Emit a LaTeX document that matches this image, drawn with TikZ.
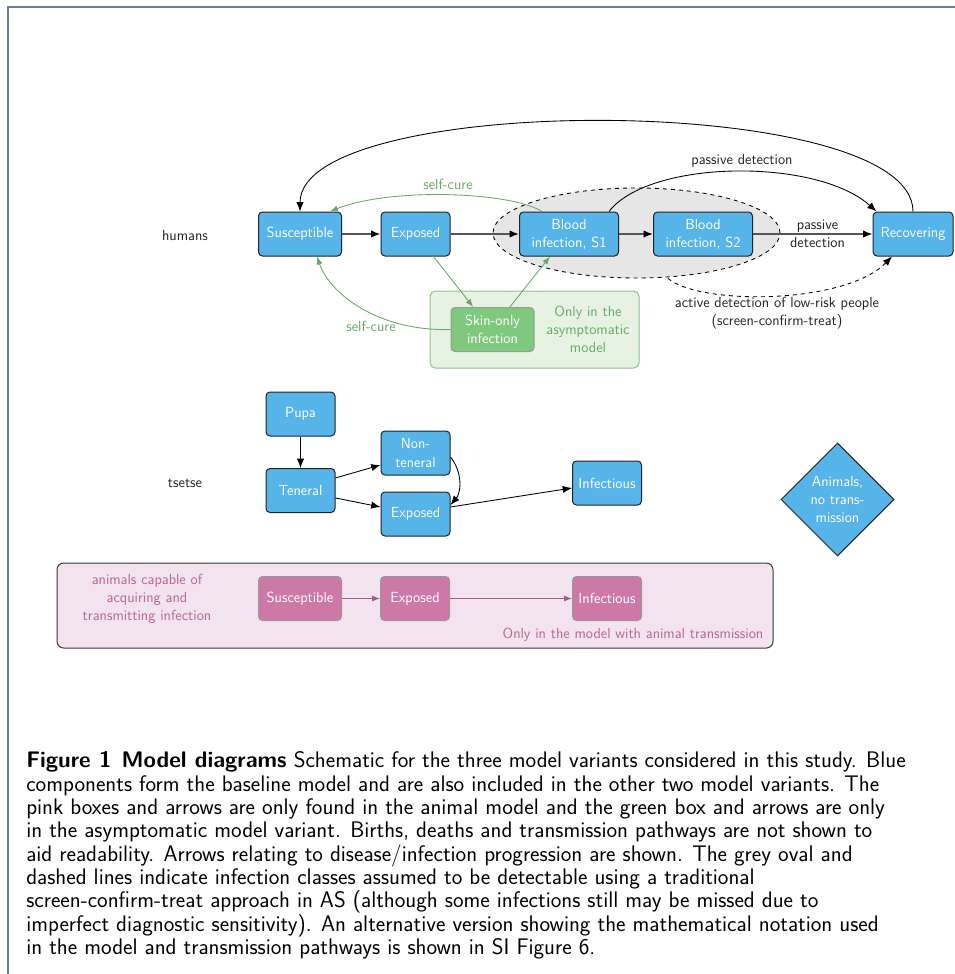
\documentclass[tikz,border=0pt]{standalone}
\usepackage{fontspec}
\usetikzlibrary{arrows.meta,shapes.geometric}
\definecolor{skyblue}{HTML}{56B4E9}
\definecolor{boxline}{HTML}{222222}
\definecolor{maingrey}{HTML}{555555}
\definecolor{txtdark}{HTML}{222222}
\definecolor{gtext}{HTML}{68A868}
\definecolor{gfill}{HTML}{7FC97F}
\definecolor{gbox}{HTML}{E6F3E3}
\definecolor{gboxline}{HTML}{8CC48C}
\definecolor{pfill}{HTML}{CC79A7}
\definecolor{ptext}{HTML}{B4678F}
\definecolor{parrow}{HTML}{A85A88}
\definecolor{pbox}{HTML}{F3E3EE}
\definecolor{framecol}{HTML}{6A7F9A}
\definecolor{ovalfill}{HTML}{E6E6E6}
\begin{document}
\begin{tikzpicture}[x=0.75pt,y=-0.75pt,
  font=\sffamily\fontsize{11}{13.6}\selectfont,
  box/.style={draw=boxline, line width=0.75pt, rounded corners=3pt, fill=skyblue,
    text=white, minimum height=33pt, inner sep=2pt, align=center},
  wa/.style={minimum width=62.25pt},
  wb/.style={minimum width=51.75pt},
  wc/.style={minimum width=74.25pt},
  pbx/.style={box, fill=pfill, draw=gray!80},
  gbx/.style={box, fill=gfill, draw=gray!80},
  lbl/.style={text=txtdark, align=center, inner sep=1pt},
  arr/.style={-{Latex[length=7pt,width=5.5pt]}, line width=0.65pt, draw=black},
  mainarr/.style={-{Latex[length=7pt,width=5.5pt,color=black]}, line width=1.1pt, draw=maingrey},
  garr/.style={-{Latex[length=6pt,width=4.5pt]}, line width=0.65pt, draw=gtext, fill=none},
  parr/.style={-{Latex[length=6pt,width=4.5pt]}, line width=0.65pt, draw=parrow},
  darr/.style={-{Latex[length=7pt,width=5.5pt]}, line width=0.65pt, dashed, draw=black}
]
\useasboundingbox (0,0) rectangle (955,974);

% page frame fragment
\draw[framecol, line width=1.2pt] (8,974) -- (8,7) -- (955,7);

% backgrounds
\node[ellipse, draw=black, dashed, line width=0.65pt, fill=ovalfill,
  minimum width=215.25pt, minimum height=67.5pt, inner sep=0pt] (oval) at (636.5,233) {};
\node[draw=gboxline, fill=gbox, rounded corners=4pt, line width=0.75pt,
  minimum width=156.75pt, minimum height=57.75pt, inner sep=0pt] (greenbox) at (534.5,329.5) {};
\node[draw=boxline!90, fill=pbox, rounded corners=5pt, line width=0.75pt,
  minimum width=537pt, minimum height=63.75pt, inner sep=0pt] (pinkbox) at (415,605.5) {};

% humans
\node[lbl] (humans) at (185,235) {humans};
\node[box,wa] (sus) at (300,234) {Susceptible};
\node[box,wb] (exp) at (415.5,234) {Exposed};
\node[box,wc] (s1) at (569,234) {Blood\\infection, S1};
\node[box,wc] (s2) at (703,234) {Blood\\infection, S2};
\node[box,minimum width=60pt] (rec) at (913,234) {Recovering};
\node[gbx,wa] (skin) at (492.5,329.5) {Skin-only\\infection};
\node[text=gtext, align=center, inner sep=0pt] (onlyasym) at (588,329.5) {Only in the\\asymptomatic\\model};

\draw[mainarr] (sus) -- (exp);
\draw[mainarr] (exp) -- (s1);
\draw[mainarr] (s1) -- (s2);
\draw[mainarr] (s2) -- node[lbl, pos=0.54]{passive\\detection} (rec);

\draw[arr] (rec.north) .. controls +(0,-120) and +(0,-120) .. (sus.north);
\draw[arr] ([xshift=-7.5pt]s1.north east) .. controls +(40,-52) and +(-60,-54) .. ([xshift=3pt]rec.north west);
\node[lbl] (pdlab) at (742,161) {passive detection};

\draw[garr] ([xshift=-20.25pt]s1.north) .. controls +(-32,-20) and +(60,-24) .. ([xshift=-9pt]sus.north east);
\node[text=gtext, inner sep=1pt] (sc1) at (448,184) {self-cure};
\draw[garr] (skin.west) .. controls +(-71,2) and +(13,38) .. ([xshift=12.75pt]sus.south);
\node[text=gtext, inner sep=1pt] (sc2) at (371,326) {self-cure};
\draw[garr] ([xshift=13.5pt]exp.south) -- ([xshift=-14.5pt]skin.north);
\draw[garr] ([xshift=13pt]skin.north) -- ([xshift=-14.25pt]s1.south);

\draw[darr] ([xshift=23.6pt]oval.south) .. controls +(32,27) and +(-47,48) .. ([xshift=-15.75pt]rec.south);
\node[lbl] (adlab) at (777,313.5) {active detection of low-risk people\\(screen-confirm-treat)};

% tsetse
\node[lbl] (tsetse) at (185,483) {tsetse};
\node[box,wb] (pupa) at (300.5,414) {Pupa};
\node[box,wb] (ten) at (300.5,490.5) {Teneral};
\node[box,wb] (nonten) at (415.5,453) {Non-\\teneral};
\node[box,wb] (texp) at (415.5,514) {Exposed};
\node[box,wb] (inf) at (607,483) {Infectious};
\node[diamond, draw=boxline, line width=0.75pt, fill=skyblue, text=white, align=center,
  minimum width=84.75pt, minimum height=84.75pt, inner sep=0pt] (animals) at (837.5,499.5) {Animals,\\no trans-\\mission};

\draw[arr] (pupa) -- (ten);
\draw[arr] ([yshift=9.4pt]ten.east) -- ([yshift=-9pt]nonten.west);
\draw[arr] ([yshift=-5.6pt]ten.east) -- ([yshift=5.25pt]texp.west);
\draw[arr] ([yshift=-3pt]nonten.east) .. controls +(12,15) and +(11,-13) .. ([yshift=6.75pt]texp.east);
\draw[arr] ([yshift=5.25pt]texp.east) -- ([yshift=-3.75pt]inf.west);

% animals
\node[text=ptext, align=center, inner sep=0pt] (animlab) at (147,598.5) {animals capable of\\acquiring and\\transmitting infection};
\node[pbx,wa] (psus) at (300,598.5) {Susceptible};
\node[pbx,wb] (pexp) at (415,598.5) {Exposed};
\node[pbx,wb] (pinf) at (607,598.5) {Infectious};
\node[text=ptext, inner sep=0pt] (onlyanim) at (633,635) {Only in the model with animal transmission};
\draw[parr] (psus) -- (pexp);
\draw[parr] (pexp) -- (pinf);

% caption
\node[anchor=north west, inner sep=0pt, align=left, text=black,
  font=\sffamily\fontsize{16.9}{17.5}\selectfont] (caption) at (26,751.5) {%
\textbf{Figure 1\hspace{0.45em}Model diagrams} Schematic for the three model variants considered in this study. Blue\\
components form the baseline model and are also included in the other two model variants. The\\
pink boxes and arrows are only found in the animal model and the green box and arrows are only\\
in the asymptomatic model variant. Births, deaths and transmission pathways are not shown to\\
aid readability. Arrows relating to disease/infection progression are shown. The grey oval and\\
dashed lines indicate infection classes assumed to be detectable using a traditional\\
screen-confirm-treat approach in AS (although some infections still may be missed due to\\
imperfect diagnostic sensitivity). An alternative version showing the mathematical notation used\\
in the model and transmission pathways is shown in SI Figure 6.};
\end{tikzpicture}
\end{document}
